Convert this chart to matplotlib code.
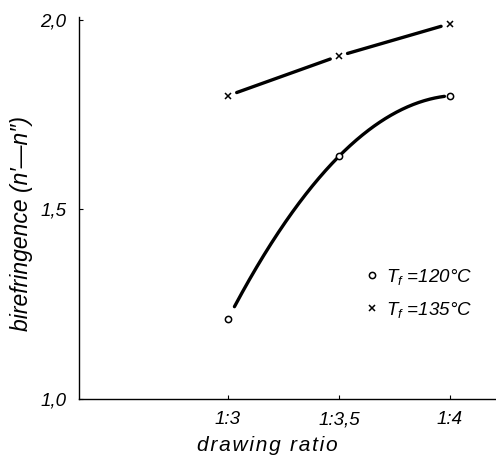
import numpy as np
import matplotlib
matplotlib.use("Agg")
import matplotlib.pyplot as plt

ratio = [3.0, 3.5, 4.0]
xtick_labels = ["1:3", "1:3,5", "1:4"]
bire_120 = [1.21, 1.64, 1.80]
bire_135 = [1.80, 1.905, 1.99]
yticks = [1.0, 1.5, 2.0]
ytick_labels = ["1,0", "1,5", "2,0"]

plt.rcParams['font.family'] = ['Liberation Sans', 'DejaVu Sans']
plt.rcParams['font.style'] = 'italic'
plt.rcParams['mathtext.fontset'] = 'custom'
plt.rcParams['mathtext.it'] = 'Liberation Sans:italic'
plt.rcParams['mathtext.rm'] = 'Liberation Sans:italic'

fig = plt.figure(figsize=(4.96, 4.57), dpi=100)
ax = fig.add_axes([0.159, 0.127, 0.841, 0.836])

xs = np.linspace(ratio[0], ratio[-1], 400)
c120 = np.polyfit(ratio, bire_120, 2)
y120 = np.polyval(c120, xs)
y135 = np.interp(xs, ratio, bire_135)

gap120 = (np.abs(xs - ratio[0]) < 0.03) | (np.abs(xs - ratio[-1]) < 0.025)
gap135 = np.zeros_like(xs, dtype=bool)
for r in ratio:
    gap135 |= np.abs(xs - r) < 0.038
ax.plot(xs, np.where(gap120, np.nan, y120), color='black', lw=2.4,
        solid_capstyle='round')
ax.plot(xs, np.where(gap135, np.nan, y135), color='black', lw=2.4,
        solid_capstyle='round')

ax.plot(ratio, bire_120, linestyle='none', marker='o', ms=4.5, mfc='white',
        mec='black', mew=1.1, label=r'$T_f$ =120°C', zorder=3)
ax.plot(ratio, bire_135, linestyle='none', marker='x', ms=3.8,
        color='black', mew=1.1, label=r'$T_f$ =135°C', zorder=3)

ax.set_xlim(2.33, 4.207)
ax.set_ylim(1.0, 2.008)
ax.set_xticks(ratio)
ax.set_xticklabels(xtick_labels, fontsize=13.5)
ax.set_yticks(yticks)
ax.set_yticklabels(ytick_labels, fontsize=13.5)
ax.tick_params(direction='in', length=3, width=0.8, pad=9)
ax.spines['top'].set_visible(False)
ax.spines['right'].set_visible(False)
for s in ['left', 'bottom']:
    ax.spines[s].set_linewidth(1.0)

ax.set_ylabel("birefringence (n′—n″)", fontsize=16.5)
ax.yaxis.set_label_coords(-0.11, 0.458)
ax.set_xlabel("\u200a".join("drawing ratio"), fontsize=15)
ax.xaxis.set_label_coords(0.452, -0.097)

leg = ax.legend(loc='upper left', bbox_to_anchor=(0.692, 0.346), frameon=False,
                handlelength=0.5, handletextpad=0.47, fontsize=13.5,
                labelspacing=0.7, borderaxespad=0, borderpad=0)

fig.savefig("out.png", dpi=100)
